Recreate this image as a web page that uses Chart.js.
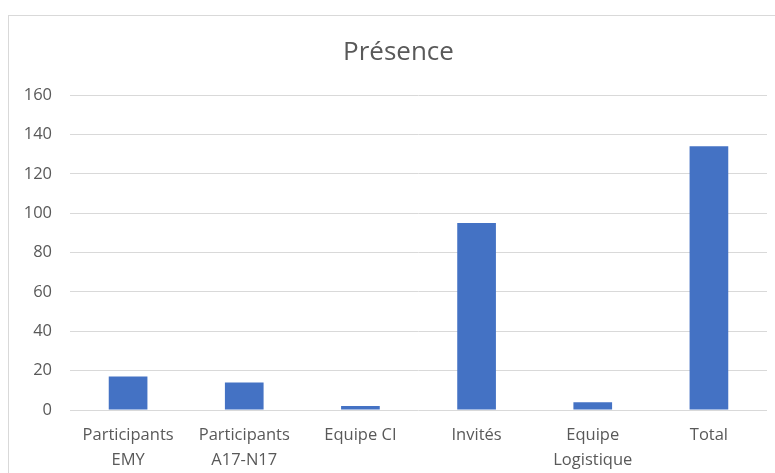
<!DOCTYPE html>
<html>
<head>
<meta charset="utf-8">
<script src="https://cdn.jsdelivr.net/npm/chart.js@4/dist/chart.umd.min.js"></script>
<style>
  html, body { margin: 0; padding: 0; background: #ffffff; overflow: hidden; }
  #wrap { position: relative; width: 775px; height: 473px; }
  #frame { position: absolute; left: 8px; top: 15px; width: 800px; height: 500px;
           border-top: 1px solid #d9d9d9; border-left: 1px solid #d9d9d9; box-sizing: border-box; }
  canvas { position: absolute; left: 0; top: 0; }
</style>
</head>
<body>
<div id="wrap">
  <div id="frame"></div>
  <canvas id="c" width="775" height="473"></canvas>
</div>
<script>
const categories = [
  ["Participants", "EMY"],
  ["Participants", "A17-N17"],
  "Equipe CI",
  "Invités",
  ["Equipe", "Logistique"],
  "Total"
];
const presence = [17, 14, 2, 95, 4, 134];
const yTicks = [0, 20, 40, 60, 80, 100, 120, 140, 160];
const chartTitle = "Présence";

const textColor = "#595959";
const fontFamily = "'Open Sans', 'Segoe UI', sans-serif";

new Chart(document.getElementById("c"), {
  type: "bar",
  data: {
    labels: categories,
    datasets: [{
      label: chartTitle,
      data: presence,
      backgroundColor: "#4472C4",
      borderWidth: 0,
      categoryPercentage: 1,
      barPercentage: 0.333
    }]
  },
  options: {
    responsive: false,
    animation: false,
    devicePixelRatio: 1,
    layout: { padding: { left: 22, right: 0, top: 0, bottom: 0 } },
    plugins: {
      legend: { display: false },
      tooltip: { enabled: false },
      title: {
        display: true,
        text: chartTitle,
        color: textColor,
        font: { family: fontFamily, size: 26, weight: "normal", lineHeight: 1.2 },
        padding: { top: 37, bottom: 27 }
      }
    },
    scales: {
      x: {
        grid: { display: false, drawTicks: false },
        border: { display: false },
        ticks: {
          color: textColor,
          font: { family: fontFamily, size: 16.5, lineHeight: "25px" },
          padding: 13,
          maxRotation: 0,
          autoSkip: false
        },
        afterFit: (s) => { s.height = 63; }
      },
      y: {
        min: 0,
        max: 160,
        afterBuildTicks: (s) => { s.ticks = yTicks.map(v => ({ value: v })); },
        grid: { color: "#d9d9d9", lineWidth: 1, drawTicks: false },
        border: { display: false },
        ticks: {
          color: textColor,
          font: { family: fontFamily, size: 16.5 },
          padding: 18
        },
        afterFit: (s) => { s.width = 48; }
      },
      yRight: {
        position: "right",
        min: 0,
        max: 160,
        grid: { display: false, drawTicks: false },
        border: { display: false },
        ticks: { display: false },
        afterFit: (s) => { s.width = 8; }
      }
    }
  }
});
</script>
</body>
</html>
